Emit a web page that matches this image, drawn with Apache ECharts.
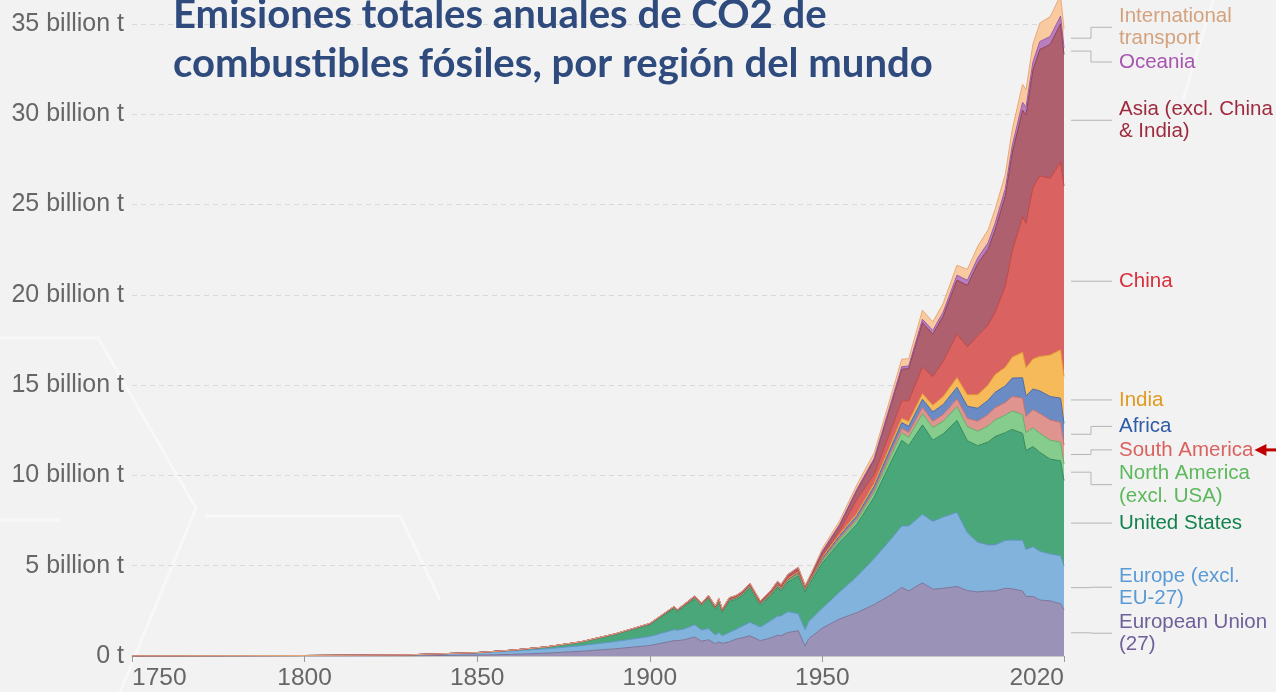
<!DOCTYPE html>
<html>
<head>
<meta charset="utf-8">
<script src="https://cdn.jsdelivr.net/npm/echarts@6/dist/echarts.min.js"></script>
<style>
html,body{margin:0;padding:0;background:#f2f2f2;}
#c{width:1276px;height:692px;}
</style>
</head>
<body>
<div id="c"></div>
<script>
// ---------------- DATA (billion tonnes CO2) ----------------
const YEARS = [1750,1800,1830,1850,1860,1870,1880,1890,1900,1907,1908,1910,1913,1915,1917,1919,1920,1921,1923,1925,1927,1929,1932,1935,1937,1938,1940,1943,1945,1946,1950,1955,1960,1965,1970,1973,1975,1979,1982,1985,1989,1992,1995,1998,2000,2003,2005,2008,2009,2011,2013,2016,2019,2020];

const EU27 = [0,0.001,0.008,0.05,0.09,0.16,0.26,0.4,0.58,0.85,0.85,0.9,1.05,0.82,0.9,0.68,0.78,0.7,0.78,0.93,1.02,1.12,0.85,1.0,1.15,1.12,1.3,1.4,0.55,0.95,1.55,2.05,2.4,2.85,3.4,3.8,3.6,4.05,3.7,3.75,3.85,3.62,3.55,3.6,3.6,3.75,3.72,3.6,3.3,3.3,3.1,3.05,2.9,2.57];
const EUROPE_OTHER = [0.009,0.026,0.055,0.12,0.18,0.24,0.31,0.4,0.5,0.6,0.58,0.6,0.68,0.62,0.62,0.48,0.52,0.42,0.52,0.55,0.65,0.75,0.75,0.95,1.05,1.1,1.15,0.95,0.9,0.95,1.1,1.5,2.0,2.55,3.1,3.4,3.6,3.8,3.75,3.95,4.1,3.2,2.75,2.55,2.55,2.65,2.7,2.8,2.6,2.75,2.7,2.6,2.65,2.43];
const USA = [0,0.0003,0.002,0.02,0.05,0.1,0.2,0.4,0.66,1.18,1.03,1.24,1.42,1.33,1.65,1.42,1.68,1.3,1.72,1.65,1.7,1.9,1.22,1.38,1.6,1.38,1.65,2.1,2.1,2.0,2.5,2.75,2.9,3.4,4.3,4.75,4.45,4.95,4.5,4.6,5.1,5.1,5.35,5.7,6.0,5.97,6.13,5.93,5.48,5.55,5.48,5.25,5.26,4.72];
const NORTH_AMERICA_OTHER = [0,0,0,0.001,0.002,0.004,0.008,0.015,0.028,0.05,0.05,0.055,0.07,0.06,0.07,0.06,0.07,0.06,0.07,0.07,0.075,0.08,0.06,0.065,0.075,0.072,0.085,0.1,0.1,0.1,0.12,0.15,0.2,0.26,0.35,0.42,0.46,0.62,0.7,0.7,0.76,0.78,0.8,0.88,0.92,0.97,1.02,1.04,0.99,1.04,1.05,1.05,1.03,0.92];
const SOUTH_AMERICA = [0,0,0,0,0.0005,0.001,0.002,0.003,0.005,0.007,0.007,0.008,0.01,0.008,0.009,0.01,0.012,0.011,0.013,0.015,0.017,0.02,0.017,0.02,0.025,0.026,0.03,0.03,0.035,0.04,0.06,0.09,0.12,0.15,0.2,0.24,0.27,0.35,0.35,0.37,0.43,0.46,0.55,0.65,0.68,0.7,0.8,0.92,0.9,1.0,1.1,1.12,1.1,1.04];
const AFRICA = [0,0,0,0,0,0,0.001,0.002,0.005,0.008,0.008,0.01,0.012,0.012,0.014,0.014,0.015,0.014,0.016,0.018,0.02,0.022,0.02,0.025,0.03,0.03,0.035,0.04,0.045,0.045,0.09,0.12,0.15,0.19,0.27,0.32,0.34,0.45,0.52,0.56,0.64,0.67,0.72,0.78,0.85,0.92,1.02,1.12,1.13,1.15,1.25,1.3,1.34,1.2];
const INDIA = [0,0,0,0,0,0.001,0.002,0.005,0.01,0.015,0.016,0.018,0.022,0.022,0.024,0.025,0.025,0.025,0.025,0.027,0.028,0.03,0.028,0.03,0.035,0.038,0.04,0.042,0.045,0.045,0.064,0.08,0.12,0.16,0.2,0.23,0.26,0.31,0.37,0.44,0.54,0.64,0.75,0.85,0.98,1.03,1.16,1.41,1.57,1.66,1.91,2.3,2.68,2.6];
const CHINA = [0,0,0,0,0,0,0,0,0.001,0.005,0.006,0.008,0.015,0.015,0.018,0.02,0.02,0.02,0.022,0.025,0.025,0.028,0.03,0.035,0.045,0.05,0.07,0.08,0.04,0.04,0.079,0.2,0.78,0.5,0.77,0.97,1.15,1.48,1.58,1.95,2.4,2.65,3.26,3.32,3.44,4.5,5.9,7.5,8.0,9.5,10.0,9.8,10.4,10.55];
const ASIA_OTHER = [0,0,0,0,0,0.001,0.002,0.004,0.01,0.02,0.022,0.025,0.035,0.035,0.045,0.045,0.05,0.045,0.05,0.055,0.06,0.07,0.065,0.09,0.11,0.12,0.14,0.15,0.06,0.07,0.2,0.3,0.5,0.8,1.4,1.75,1.78,2.45,2.35,2.5,3.0,3.4,4.0,4.2,4.55,5.0,5.4,5.9,6.0,6.5,7.0,7.4,7.65,7.28];
const OCEANIA = [0,0,0,0,0.001,0.002,0.003,0.005,0.008,0.01,0.01,0.012,0.015,0.015,0.015,0.015,0.016,0.016,0.017,0.018,0.019,0.02,0.017,0.02,0.022,0.023,0.025,0.028,0.028,0.03,0.04,0.05,0.065,0.085,0.12,0.14,0.15,0.19,0.21,0.23,0.27,0.29,0.31,0.35,0.37,0.39,0.41,0.44,0.44,0.44,0.44,0.44,0.43,0.38];
const INTL_TRANSPORT = [0,0,0,0,0,0,0,0,0,0,0,0,0,0,0,0,0,0,0,0,0,0,0,0,0,0,0,0,0,0,0.15,0.2,0.25,0.3,0.38,0.42,0.4,0.5,0.48,0.48,0.55,0.6,0.65,0.72,0.78,0.8,0.9,1.0,0.95,1.0,1.02,1.1,1.15,1.05];

const SERIES_NAMES = ['European Union (27)','Europe (excl. EU-27)','United States','North America (excl. USA)','South America','Africa','India','China','Asia (excl. China & India)','Oceania','International transport'];
const SERIES_VALUES = [EU27, EUROPE_OTHER, USA, NORTH_AMERICA_OTHER, SOUTH_AMERICA, AFRICA, INDIA, CHINA, ASIA_OTHER, OCEANIA, INTL_TRANSPORT];
const LABEL_TEXTS = ['European Union\n(27)','Europe (excl.\nEU-27)','United States','North America\n(excl. USA)','South America','Africa','India','China','Asia (excl. China\n& India)','Oceania','International\ntransport'];

const Y_TICKS = [0,5,10,15,20,25,30,35];
const X_TICKS = [1750,1800,1850,1900,1950,2020];
const TITLE_LINES = ['Emisiones totales anuales de CO2 de','combustibles fósiles, por región del mundo'];

// ---------------- STYLE ----------------
const FILL = ['#9b93b7','#82b3dc','#4aa77a','#86cc8c','#e0948f','#6a8bc4','#f6ba5a','#da6260','#ae606e','#b87ec0','#f9caa0'];
const EDGE = ['#7d7399','#5f95c4','#2f8a5c','#63ad6a','#c9716b','#4b6aa6','#e09a30','#bf4542','#8e3e4f','#9a5aa3','#e8a878'];
const LABEL_COLOR = ['#6f609a','#5a9ad5','#13834d','#5cb85c','#d9625f','#2e5ca8','#e09a1e','#d9303a','#9e2a3e','#a855b0','#d4a27e'];

const Y_MAX = 36.33;
const GRID = {left:132, right:212, top:0, bottom:36};
const FONT = '"Liberation Sans", Arial, sans-serif';

const chart = echarts.init(document.getElementById('c'), null, {renderer:'canvas'});

// value first, year second, so ECharts stacks the value dimension (y)
const series = SERIES_NAMES.map((name,i)=>({
  name, type:'line', stack:'total', symbol:'none', smooth:false,
  encode:{x:1, y:0},
  lineStyle:{width:1, color:EDGE[i]},
  itemStyle:{color:FILL[i]},
  areaStyle:{color:FILL[i], opacity:1},
  emphasis:{disabled:true},
  data: YEARS.map((y,k)=>[SERIES_VALUES[i][k], y])
}));

chart.setOption({
  backgroundColor:'#f2f2f2',
  animation:false,
  grid:GRID,
  xAxis:{
    type:'value', min:1750, max:2020, interval:50,
    axisLine:{show:true, lineStyle:{color:'#c8c8c8', width:1}},
    axisTick:{show:true, length:6, lineStyle:{color:'#9a9a9a'}, customValues:X_TICKS},
    splitLine:{show:false},
    axisLabel:{
      customValues:X_TICKS,
      color:'#666', fontSize:24.5, fontFamily:FONT, margin:10,
      alignMinLabel:'left', alignMaxLabel:'right',
      formatter:v=> X_TICKS.indexOf(v)>=0 ? String(v) : ''
    }
  },
  yAxis:{
    type:'value', min:0, max:Y_MAX, interval:5,
    axisLine:{show:false}, axisTick:{show:false},
    splitLine:{show:true, showMaxLine:false, lineStyle:{color:'#d9d9d9', type:[5,4], width:1}},
    axisLabel:{
      color:'#666', fontSize:25, fontFamily:FONT, margin:8, showMaxLabel:false,
      formatter:v=> Y_TICKS.indexOf(v)<0 ? '' : (v===0 ? '0 t' : v+' billion t')
    }
  },
  series
});

// ---------------- labels on the right ----------------
const last = YEARS.length-1;
const LH = 22.5, GAP = 1;
let cum = 0;
const items = [];
SERIES_VALUES.forEach((arr,i)=>{
  const v = arr[last];
  const mid = cum + v/2;
  cum += v;
  const py = chart.convertToPixel({gridIndex:0},[YEARS[last], Math.min(mid, Y_MAX)])[1];
  const lines = LABEL_TEXTS[i].split('\n').length;
  items.push({i, y:py, h:lines*LH});
});
items.sort((a,b)=>a.y-b.y);
let clusters = items.map(it=>[it]);
function place(cl){
  const offs=[]; let acc=0;
  cl.forEach(it=>{offs.push(acc+it.h/2); acc+=it.h+GAP;});
  const total = acc-GAP;
  const md = cl.reduce((s,it)=>s+it.y,0)/cl.length;
  const mo = offs.reduce((s,o)=>s+o,0)/cl.length;
  let top = md-mo; if(top<0) top=0;
  cl.forEach((it,k)=>{it.cy = top+offs[k];});
  cl.top=top; cl.bottom=top+total;
}
let changed=true, guard=0;
while(changed && guard++<100){
  changed=false;
  clusters.forEach(place);
  for(let k=0;k<clusters.length-1;k++){
    if(clusters[k].bottom+GAP > clusters[k+1].top){
      const m = clusters[k].concat(clusters[k+1]);
      clusters.splice(k,2,m); changed=true; break;
    }
  }
}
clusters.forEach(place);

const xEnd = chart.convertToPixel({gridIndex:0},[2020,0])[0];
const X0 = xEnd+7, X1 = xEnd+27, X2 = xEnd+48, XT = xEnd+55;
const graphics = [];

// faint decorative background lines
const deco = [
  [[0,338],[98,338],[196,508],[120,692]],
  [[205,516],[400,516],[440,600]],
  [[0,520],[60,520]],
  [[1213,0],[1183,100]]
];
deco.forEach(pts=>graphics.push({type:'polyline', z:-10, silent:true, shape:{points:pts}, style:{stroke:'rgba(255,255,255,0.45)', lineWidth:3, fill:null}}));

items.forEach(it=>{
  graphics.push({type:'polyline', silent:true, shape:{points:[[X0,it.y],[X1,it.y],[X1,it.cy],[X2,it.cy]]}, style:{stroke:'#b5b5b5', lineWidth:1, fill:null}});
  graphics.push({type:'text', silent:true, x:XT, y:it.cy, style:{text:LABEL_TEXTS[it.i], fill:LABEL_COLOR[it.i], font:'20.5px '+FONT, lineHeight:LH, verticalAlign:'middle', align:'left'}});
});

// red arrow pointing at "South America"
const cnv = document.createElement('canvas').getContext('2d');
cnv.font = '20.5px '+FONT;
const sa = items.find(it=>it.i===4);
const saW = cnv.measureText('South America').width;
const ax = XT + saW + 1;
graphics.push({type:'polygon', silent:true, shape:{points:[[ax,sa.cy],[ax+12,sa.cy-6],[ax+12,sa.cy+6]]}, style:{fill:'#c00000'}});
graphics.push({type:'rect', silent:true, shape:{x:ax+11, y:sa.cy-1.5, width:1276-ax, height:3}, style:{fill:'#c00000'}});

// title
const TFONT = 'Lato, "Open Sans", sans-serif';
cnv.font = 'bold 36px '+TFONT;
const w2 = cnv.measureText(TITLE_LINES[1]).width;
const tSize = 36*760/w2;
graphics.push({type:'text', silent:true, x:173, y:15, style:{text:TITLE_LINES[0], fill:'#2f4b7e', font:'bold '+tSize.toFixed(1)+'px '+TFONT, verticalAlign:'middle'}});
graphics.push({type:'text', silent:true, x:173, y:64, style:{text:TITLE_LINES[1], fill:'#2f4b7e', font:'bold '+tSize.toFixed(1)+'px '+TFONT, verticalAlign:'middle'}});

chart.setOption({graphic:graphics});
</script>
</body>
</html>
